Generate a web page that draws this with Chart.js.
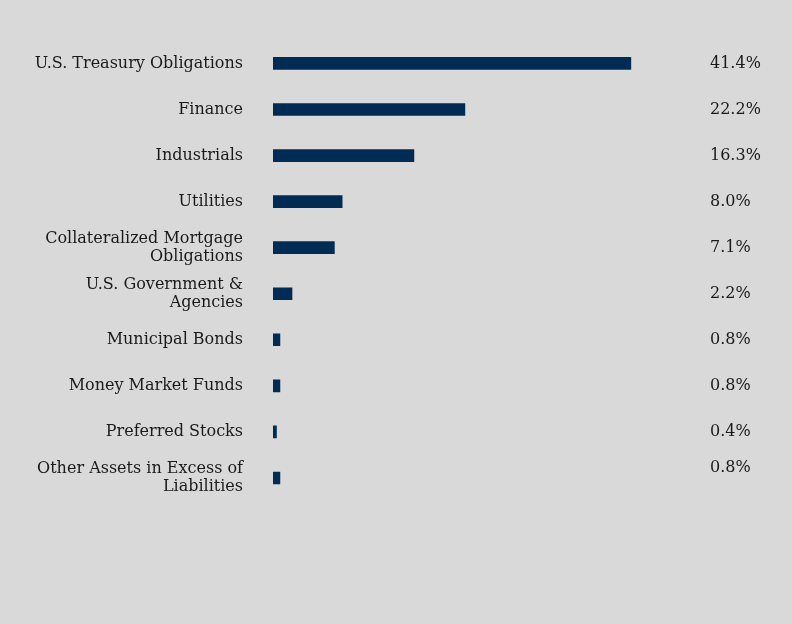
<!DOCTYPE html>
<html><head><meta charset="utf-8">
<script src="https://cdn.jsdelivr.net/npm/chart.js@4"></script>
<style>html,body{margin:0;padding:0;background:#d9d9d9;}#w{width:792px;height:624px;}</style>
</head><body><div id="w"><canvas id="c"></canvas></div>
<script>
const categories = [
  "U.S. Treasury Obligations",
  "Finance",
  "Industrials",
  "Utilities",
  ["Collateralized Mortgage","Obligations"],
  ["U.S. Government &","Agencies"],
  "Municipal Bonds",
  "Money Market Funds",
  "Preferred Stocks",
  ["Other Assets in Excess of","Liabilities"]
];
const values = [41.4, 22.2, 16.3, 8.0, 7.1, 2.2, 0.8, 0.8, 0.4, 0.8];
const valueLabels = ["41.4%","22.2%","16.3%","8.0%","7.1%","2.2%","0.8%","0.8%","0.4%","0.8%"];
const FONT = "'DejaVu Serif', 'Liberation Serif', serif";

const labelPlugin = {
  id: 'vals',
  afterDatasetsDraw(chart) {
    const ctx = chart.ctx;
    const meta = chart.getDatasetMeta(0);
    ctx.save();
    ctx.font = "16px " + FONT;
    ctx.fillStyle = "#1a1a1a";
    ctx.textAlign = "left";
    ctx.textBaseline = "middle";
    meta.data.forEach((bar, i) => {
      ctx.fillText(valueLabels[i], 710, bar.y + (i === values.length - 1 ? -10 : 0));
    });
    ctx.restore();
  }
};

new Chart(document.getElementById('c'), {
  type: 'bar',
  data: { labels: categories, datasets: [{ data: values, backgroundColor: '#002b55', barThickness: 12 }] },
  options: {
    indexAxis: 'y',
    responsive: true, maintainAspectRatio: false, animation: false,
    layout: { padding: { top: 38, bottom: 123, right: 92, left: 0 } },
    plugins: { legend: { display: false }, tooltip: { enabled: false } },
    scales: {
      x: { min: 0, max: 49.4, display: false, grid: { display: false } },
      y: {
        grid: { display: false }, border: { display: false },
        afterFit(s) { s.width = 273; },
        ticks: { color: '#1a1a1a', padding: 22, font: { family: FONT, size: 16, lineHeight: 1.15 }, autoSkip: false }
      }
    }
  },
  plugins: [labelPlugin]
});
</script></body></html>
